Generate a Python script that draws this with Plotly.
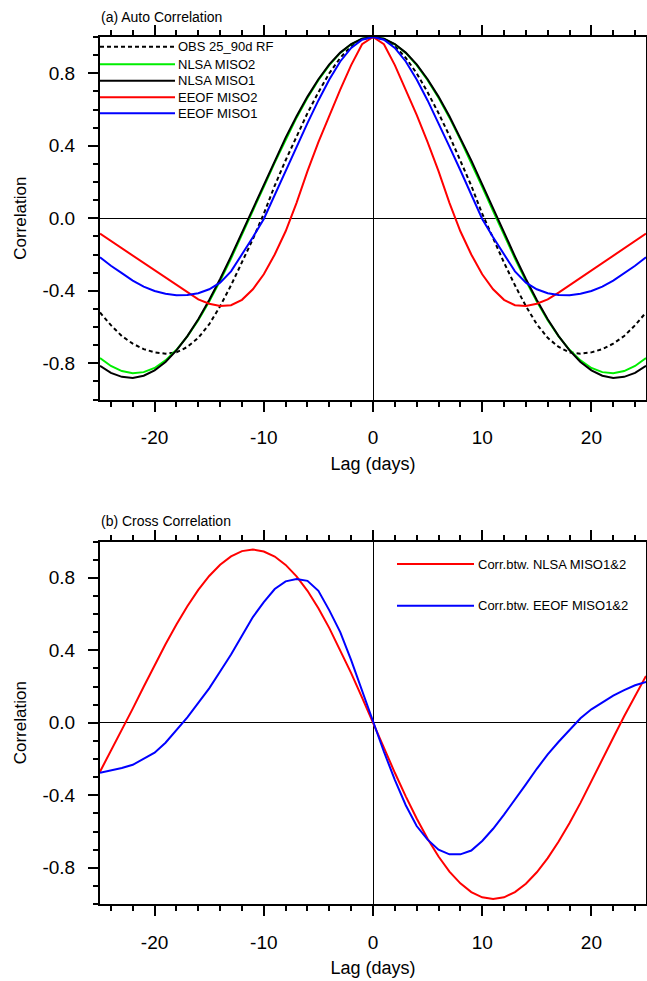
import plotly.graph_objects as go

# ---------------- data ----------------
lags = list(range(-25, 26))

obs_rf = [-0.520, -0.590, -0.650, -0.692, -0.722, -0.740, -0.747, -0.740, -0.710, -0.660,
          -0.585, -0.485, -0.370, -0.245, -0.115, 0.025, 0.180, 0.320, 0.455, 0.580,
          0.695, 0.800, 0.885, 0.950, 0.988,
          1.000,
          0.988, 0.950, 0.885, 0.800, 0.695, 0.580, 0.455, 0.320, 0.180, 0.025,
          -0.115, -0.245, -0.370, -0.485, -0.585, -0.660, -0.710, -0.740, -0.747, -0.740,
          -0.722, -0.692, -0.650, -0.590, -0.520]

nlsa_miso2 = [-0.771, -0.815, -0.843, -0.855, -0.849, -0.826, -0.784, -0.726, -0.652, -0.562,
              -0.459, -0.345, -0.222, -0.093, 0.040, 0.174, 0.307, 0.434, 0.555, 0.665,
              0.762, 0.845, 0.912, 0.960, 0.990,
              1.000,
              0.990, 0.960, 0.912, 0.845, 0.762, 0.665, 0.555, 0.434, 0.307, 0.174,
              0.040, -0.093, -0.222, -0.345, -0.459, -0.562, -0.652, -0.726, -0.784, -0.826,
              -0.849, -0.855, -0.843, -0.815, -0.771]

nlsa_miso1 = [-0.814, -0.853, -0.875, -0.881, -0.869, -0.839, -0.793, -0.729, -0.650, -0.557,
              -0.451, -0.335, -0.210, -0.080, 0.054, 0.187, 0.319, 0.445, 0.563, 0.671,
              0.767, 0.849, 0.914, 0.961, 0.990,
              1.000,
              0.990, 0.961, 0.914, 0.849, 0.767, 0.671, 0.563, 0.445, 0.319, 0.187,
              0.054, -0.080, -0.210, -0.335, -0.451, -0.557, -0.650, -0.729, -0.793, -0.839,
              -0.869, -0.881, -0.875, -0.853, -0.814]

eeof_miso2 = [-0.085, -0.125, -0.166, -0.208, -0.250, -0.290, -0.330, -0.370, -0.410, -0.448,
              -0.472, -0.484, -0.480, -0.450, -0.392, -0.309, -0.200, -0.072, 0.085, 0.260,
              0.420, 0.570, 0.710, 0.845, 0.960,
              1.000,
              0.960, 0.845, 0.710, 0.570, 0.420, 0.260, 0.085, -0.072, -0.200, -0.309,
              -0.392, -0.450, -0.480, -0.484, -0.472, -0.448, -0.410, -0.370, -0.330, -0.290,
              -0.250, -0.208, -0.166, -0.125, -0.085]

eeof_miso1 = [-0.215, -0.262, -0.303, -0.344, -0.377, -0.401, -0.417, -0.425, -0.424, -0.414,
              -0.392, -0.355, -0.293, -0.200, -0.105, -0.004, 0.130, 0.265, 0.395, 0.525,
              0.650, 0.765, 0.865, 0.940, 0.985,
              1.000,
              0.985, 0.940, 0.865, 0.765, 0.650, 0.525, 0.395, 0.265, 0.130, -0.004,
              -0.105, -0.200, -0.293, -0.355, -0.392, -0.414, -0.424, -0.425, -0.417, -0.401,
              -0.377, -0.344, -0.303, -0.262, -0.215]

cross_nlsa = [-0.270, -0.156, -0.040, 0.078, 0.199, 0.318, 0.433, 0.542, 0.643, 0.733,
              0.810, 0.872, 0.918, 0.947, 0.956, 0.945, 0.917, 0.871, 0.808, 0.728,
              0.632, 0.522, 0.402, 0.274, 0.139,
              0.000,
              -0.139, -0.276, -0.406, -0.528, -0.640, -0.738, -0.821, -0.886, -0.934, -0.963,
              -0.973, -0.963, -0.934, -0.888, -0.825, -0.747, -0.655, -0.553, -0.442, -0.325,
              -0.204, -0.083, 0.036, 0.150, 0.258]

cross_eeof = [-0.276, -0.265, -0.250, -0.232, -0.197, -0.165, -0.110, -0.040, 0.030, 0.110,
              0.190, 0.283, 0.376, 0.480, 0.583, 0.665, 0.738, 0.780, 0.793, 0.783,
              0.728, 0.620, 0.500, 0.345, 0.175,
              0.000,
              -0.160, -0.315, -0.455, -0.570, -0.645, -0.700, -0.726, -0.726, -0.705, -0.652,
              -0.585, -0.507, -0.425, -0.340, -0.254, -0.175, -0.105, -0.038, 0.025, 0.074,
              0.113, 0.150, 0.180, 0.207, 0.225]

x_tickvals = [-20, -10, 0, 10, 20]
x_ticktext = ["-20", "-10", "0", "10", "20"]
y_tickvals = [-0.8, -0.4, 0.0, 0.4, 0.8]
y_ticktext = ["-0.8", "-0.4", "0.0", "0.4", "0.8"]

auto_series = [
    ("OBS 25_90d RF", obs_rf, "black", "4px,3px"),
    ("NLSA MISO2", nlsa_miso2, "#00ee00", "solid"),
    ("NLSA MISO1", nlsa_miso1, "black", "solid"),
    ("EEOF MISO2", eeof_miso2, "#ff0000", "solid"),
    ("EEOF MISO1", eeof_miso1, "#0000ff", "solid"),
]
cross_series = [
    ("Corr.btw. NLSA MISO1&2", cross_nlsa, "#ff0000"),
    ("Corr.btw. EEOF MISO1&2", cross_eeof, "#0000ff"),
]

# ---------------- layout geometry ----------------
W, H = 647, 981
L, R, T, B = 100, 1, 37, 77
PW, PH = W - L - R, H - T - B
panel_h = 362.5
dom_a = [1 - panel_h / PH, 1.0]
dom_b = [0.0, panel_h / PH]

FONT = "Liberation Sans, Arial, Helvetica, sans-serif"


def px_x(px):
    return (px - L) / PW


def px_y(py):
    return (H - B - py) / PH


fig = go.Figure()

for name, vals, color, dash in auto_series:
    fig.add_trace(go.Scatter(x=lags, y=vals, mode="lines", name=name,
                             line=dict(color=color, width=2, dash=dash),
                             xaxis="x", yaxis="y", showlegend=False))
for name, vals, color in cross_series:
    fig.add_trace(go.Scatter(x=lags, y=vals, mode="lines", name=name,
                             line=dict(color=color, width=2),
                             xaxis="x2", yaxis="y2", showlegend=False))

common = dict(showline=True, linecolor="black", linewidth=2, mirror="allticks",
              ticks="outside", ticklen=10, tickwidth=1.5, tickcolor="black",
              showgrid=False, zeroline=True, zerolinecolor="black", zerolinewidth=1,
              tickfont=dict(family=FONT, size=19, color="black"),
              automargin=False)

xax = dict(common, range=[-25, 25], tickmode="array", tickvals=x_tickvals,
           ticktext=x_ticktext, ticklabelstandoff=10,
           minor=dict(ticks="outside", ticklen=5, tickwidth=1.5, tickcolor="black",
                      tickmode="linear", tick0=0, dtick=2),
           title=dict(text="Lag (days)", font=dict(family=FONT, size=18, color="black"),
                      standoff=10))
yax = dict(common, range=[-1, 1], tickmode="array", tickvals=y_tickvals,
           ticktext=y_ticktext, ticklabelstandoff=9,
           minor=dict(ticks="outside", ticklen=5, tickwidth=1.5, tickcolor="black",
                      tickmode="linear", tick0=0, dtick=0.1),
           title=dict(text="Correlation", font=dict(family=FONT, size=17, color="black"),
                      standoff=12))

shapes = []
annotations = []

# legend of panel (a)
leg_a_y = [46.7, 64.3, 80.7, 97.3, 113.3]
for (name, vals, color, dash), yy in zip(auto_series, leg_a_y):
    shapes.append(dict(type="line", xref="paper", yref="paper",
                       x0=px_x(100), x1=px_x(175), y0=px_y(yy), y1=px_y(yy),
                       line=dict(color=color, width=2,
                                 dash="4px,3px" if dash != "solid" else "solid")))
    annotations.append(dict(xref="paper", yref="paper", x=px_x(176), y=px_y(yy),
                            xanchor="left", yanchor="middle", showarrow=False,
                            text=name, font=dict(family=FONT, size=13, color="black")))

# legend of panel (b)
leg_b_y = [564, 605.7]
for (name, vals, color), yy in zip(cross_series, leg_b_y):
    shapes.append(dict(type="line", xref="paper", yref="paper",
                       x0=px_x(397), x1=px_x(474), y0=px_y(yy), y1=px_y(yy),
                       line=dict(color=color, width=2)))
    annotations.append(dict(xref="paper", yref="paper", x=px_x(476), y=px_y(yy),
                            xanchor="left", yanchor="middle", showarrow=False,
                            text=name, font=dict(family=FONT, size=13, color="black")))

# panel titles
annotations.append(dict(xref="paper", yref="paper", x=px_x(99), y=px_y(17),
                        xanchor="left", yanchor="middle", showarrow=False,
                        text="(a) Auto Correlation",
                        font=dict(family=FONT, size=14, color="black")))
annotations.append(dict(xref="paper", yref="paper", x=px_x(99), y=px_y(521),
                        xanchor="left", yanchor="middle", showarrow=False,
                        text="(b) Cross Correlation",
                        font=dict(family=FONT, size=14, color="black")))

fig.update_layout(
    width=W, height=H,
    margin=dict(l=L, r=R, t=T, b=B, autoexpand=False),
    paper_bgcolor="white", plot_bgcolor="white",
    showlegend=False,
    xaxis=dict(xax, domain=[0, 1], anchor="y"),
    yaxis=dict(yax, domain=dom_a, anchor="x"),
    xaxis2=dict(xax, domain=[0, 1], anchor="y2"),
    yaxis2=dict(yax, domain=dom_b, anchor="x2"),
    shapes=shapes,
    annotations=annotations,
)

fig.write_html(
    "out.html",
    config={"displayModeBar": False},
    post_script="document.body.style.margin='0';document.body.style.overflow='hidden';",
)
